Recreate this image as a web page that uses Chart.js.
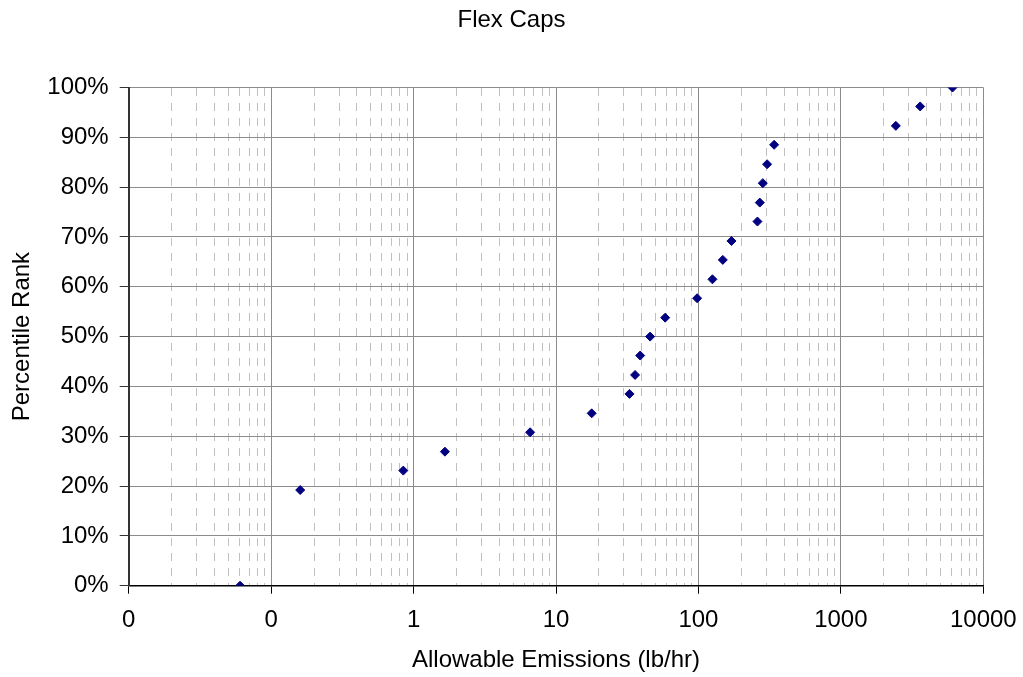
<!DOCTYPE html>
<html>
<head>
<meta charset="utf-8">
<script src="https://cdn.jsdelivr.net/npm/chart.js@4/dist/chart.umd.min.js"></script>
<style>
html,body{margin:0;padding:0;background:#fff;}
#wrap{width:1023px;height:677px;position:relative;}
</style>
</head>
<body>
<div id="wrap"><canvas id="c" width="1023" height="677"></canvas></div>
<script>
const chartTitle = 'Flex Caps';
const xAxisTitle = 'Allowable Emissions (lb/hr)';
const yAxisTitle = 'Percentile Rank';

// Allowable emissions (lb/hr)
const emissions = [0.0605, 0.160, 0.847, 1.66, 6.58, 17.8, 32.8, 35.9, 39.0, 45.8, 58.4, 97.9, 125.4, 148.3, 170.6, 259.6, 269.6, 283, 303.5, 340, 2432, 3604, 6081];
// Percentile rank (fraction)
const percentRank = [0, 0.192, 0.231, 0.269, 0.308, 0.346, 0.385, 0.423, 0.462, 0.500, 0.538, 0.577, 0.615, 0.654, 0.692, 0.731, 0.769, 0.808, 0.846, 0.885, 0.923, 0.962, 1.000];

// Axis ticks
const xMajorTicks = [0.01, 0.1, 1, 10, 100, 1000, 10000];
const xMajorLabels = ['0', '0', '1', '10', '100', '1000', '10000'];
const xMinorTicks = [
  0.02,0.03,0.04,0.05,0.06,0.07,0.08,0.09,
  0.2,0.3,0.4,0.5,0.6,0.7,0.8,0.9,
  2,3,4,5,6,7,8,9,
  20,30,40,50,60,70,80,90,
  200,300,400,500,600,700,800,900,
  2000,3000,4000,5000,6000,7000,8000,9000
];
const yTicks = [0, 0.1, 0.2, 0.3, 0.4, 0.5, 0.6, 0.7, 0.8, 0.9, 1.0];

const FONT = "'Liberation Sans', Arial, sans-serif";
const FS = 24;
const points = emissions.map((x, i) => ({x: x, y: percentRank[i]}));

new Chart(document.getElementById('c'), {
  type: 'scatter',
  data: {
    datasets: [{
      data: points,
      pointStyle: 'rectRot',
      pointRadius: 4.5,
      pointHoverRadius: 4.5,
      pointBorderWidth: 1,
      backgroundColor: '#000080',
      borderColor: '#000080'
    }]
  },
  options: {
    responsive: false,
    animation: false,
    events: [],
    layout: {padding: 0},
    plugins: {
      legend: {display: false},
      tooltip: {enabled: false},
      title: {
        display: true,
        text: chartTitle,
        color: '#000',
        font: {family: FONT, size: FS, weight: 'normal'},
        padding: {top: 6, bottom: 52.7}
      }
    },
    scales: {
      xMinor: {
        type: 'logarithmic',
        position: 'top',
        min: 0.01, max: 10000,
        afterBuildTicks: s => { s.ticks = xMinorTicks.map(v => ({value: v})); },
        afterFit: s => { s.height = 0; s.paddingLeft = 0; s.paddingRight = 0; },
        ticks: {display: false},
        grid: {color: '#c0c0c0', lineWidth: 1, drawTicks: false},
        border: {display: false, dash: [8, 7]}
      },
      x: {
        type: 'logarithmic',
        position: 'bottom',
        min: 0.01, max: 10000,
        afterBuildTicks: s => { s.ticks = xMajorTicks.map(v => ({value: v})); },
        afterFit: s => { s.height = 91.3; s.paddingLeft = 0; s.paddingRight = 0; },
        ticks: {
          color: '#000',
          font: {family: FONT, size: FS},
          padding: 12,
          maxRotation: 0,
          autoSkip: false,
          callback: (v, i) => xMajorLabels[i]
        },
        grid: {color: '#8c8c8c', lineWidth: 1, tickLength: 8, tickColor: '#000'},
        border: {color: '#000', width: 1.5},
        title: {
          display: true,
          text: xAxisTitle,
          color: '#000',
          font: {family: FONT, size: FS},
          padding: {top: 0, bottom: 2}
        }
      },
      y: {
        type: 'linear',
        min: 0, max: 1,
        afterBuildTicks: s => { s.ticks = yTicks.map(v => ({value: v})); },
        afterFit: s => { s.width = 128.7; },
        ticks: {
          color: '#000',
          font: {family: FONT, size: FS},
          padding: 11,
          callback: v => Math.round(v * 100) + '%'
        },
        grid: {color: '#8c8c8c', lineWidth: 1, tickLength: 9, tickColor: '#333'},
        border: {color: '#333', width: 2},
        title: {
          display: true,
          text: yAxisTitle,
          color: '#000',
          font: {family: FONT, size: FS},
          padding: {top: 8, bottom: 0}
        }
      },
      yRightSpace: {
        type: 'linear',
        position: 'right',
        min: 0, max: 1,
        afterFit: s => { s.width = 39.7; },
        ticks: {display: false},
        grid: {display: false, drawOnChartArea: false},
        border: {display: false}
      }
    }
  }
});
</script>
</body>
</html>
